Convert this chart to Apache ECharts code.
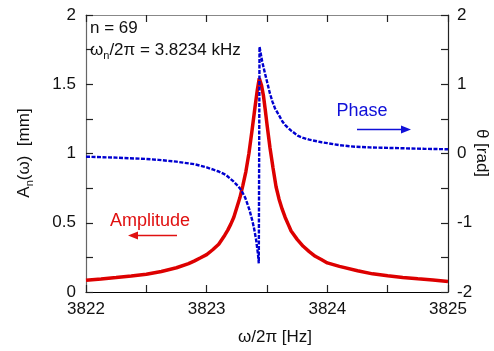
<!DOCTYPE html>
<html>
<head>
<meta charset="utf-8">
<script src="https://cdn.jsdelivr.net/npm/echarts@6/dist/echarts.min.js"></script>
<style>
html,body{margin:0;padding:0;background:#fff;}
#c{width:494px;height:351px;}
</style>
</head>
<body>
<div id="c"></div>
<script>
// Amplitude A_n(ω) [mm] vs frequency [Hz]
var ampFreq = [3822.00, 3822.125, 3822.25, 3822.375, 3822.50, 3822.625, 3822.75, 3822.85, 3822.90, 3822.95, 3823.00, 3823.05, 3823.10, 3823.15, 3823.175, 3823.20, 3823.225, 3823.25, 3823.275, 3823.30, 3823.325, 3823.35, 3823.375, 3823.40, 3823.42, 3823.436, 3823.455, 3823.47, 3823.485, 3823.50, 3823.525, 3823.55, 3823.575, 3823.60, 3823.625, 3823.65, 3823.675, 3823.70, 3823.75, 3823.80, 3823.85, 3823.90, 3823.95, 3824.00, 3824.10, 3824.25, 3824.375, 3824.50, 3824.625, 3824.75, 3824.875, 3825.00];
var ampValues = [0.085, 0.094, 0.104, 0.115, 0.128, 0.148, 0.175, 0.205, 0.225, 0.247, 0.270, 0.305, 0.345, 0.41, 0.447, 0.49, 0.54, 0.61, 0.68, 0.77, 0.87, 1.00, 1.16, 1.33, 1.46, 1.543, 1.49, 1.42, 1.32, 1.21, 1.04, 0.895, 0.76, 0.67, 0.60, 0.54, 0.49, 0.44, 0.38, 0.33, 0.292, 0.258, 0.235, 0.21, 0.185, 0.153, 0.131, 0.117, 0.105, 0.095, 0.086, 0.076];

// Phase θ [rad] vs frequency [Hz]
var phaseFreq = [3822.00, 3822.25, 3822.50, 3822.60, 3822.75, 3822.90, 3823.00, 3823.05, 3823.10, 3823.16, 3823.22, 3823.26, 3823.286, 3823.32, 3823.355, 3823.38, 3823.395, 3823.41, 3823.425, 3823.432, 3823.438, 3823.46, 3823.483, 3823.50, 3823.524, 3823.545, 3823.566, 3823.60, 3823.625, 3823.649, 3823.70, 3823.759, 3823.80, 3823.85, 3823.953, 3824.00, 3824.10, 3824.229, 3824.35, 3824.45, 3824.643, 3824.80, 3825.00];
var phaseValues = [-0.046, -0.06, -0.079, -0.092, -0.118, -0.155, -0.20, -0.23, -0.26, -0.31, -0.40, -0.47, -0.527, -0.64, -0.816, -0.98, -1.10, -1.25, -1.45, -1.586, 1.542, 1.33, 1.158, 1.04, 0.869, 0.75, 0.653, 0.55, 0.47, 0.412, 0.33, 0.253, 0.225, 0.20, 0.162, 0.15, 0.12, 0.098, 0.088, 0.083, 0.075, 0.068, 0.061];

// Axis ranges
var xRange = [3822, 3825];
var ampRange = [0, 2];
var phaseRange = [-2, 2];

var FONT = "'Liberation Sans', Arial, Helvetica, sans-serif";

function zip(a, b) { return a.map(function (v, i) { return [v, b[i]]; }); }
function onStep(v, step) { var q = v / step; return Math.abs(q - Math.round(q)) < 1e-6; }
function ticks() { return { show: true, inside: true, length: 7, lineStyle: { color: '#222', width: 1.2 } }; }

var chart = echarts.init(document.getElementById('c'), null, { renderer: 'canvas' });

var option = {
  animation: false,
  backgroundColor: '#fff',
  grid: { left: 86, right: 46, top: 15, bottom: 59, containLabel: false },
  xAxis: [
    {
      type: 'value', position: 'bottom', min: xRange[0], max: xRange[1], interval: 0.5,
      axisLine: { show: true, onZero: false, lineStyle: { color: '#000', width: 1.2 } },
      axisTick: ticks(),
      minorTick: { show: false },
      splitLine: { show: false },
      axisLabel: {
        margin: 9, fontSize: 17, color: '#111', fontFamily: FONT,
        formatter: function (v) { return onStep(v, 1) ? String(Math.round(v)) : ''; }
      }
    },
    {
      type: 'value', position: 'top', min: xRange[0], max: xRange[1], interval: 0.5,
      axisLine: { show: true, onZero: false, lineStyle: { color: '#888', width: 1.2 } },
      axisTick: ticks(),
      splitLine: { show: false },
      axisLabel: { show: true, color: 'rgba(0,0,0,0)', formatter: function () { return ''; } }
    }
  ],
  yAxis: [
    {
      type: 'value', position: 'left', min: ampRange[0], max: ampRange[1], interval: 0.25,
      axisLine: { show: true, onZero: false, lineStyle: { color: '#666', width: 1.2 } },
      axisTick: ticks(),
      splitLine: { show: false },
      axisLabel: {
        margin: 10, fontSize: 17, color: '#111', fontFamily: FONT,
        formatter: function (v) { return onStep(v, 0.5) ? String(Math.round(v * 2) / 2) : ''; }
      }
    },
    {
      type: 'value', position: 'right', min: phaseRange[0], max: phaseRange[1], interval: 0.5,
      axisLine: { show: true, onZero: false, lineStyle: { color: '#222', width: 1.2 } },
      axisTick: ticks(),
      splitLine: { show: false },
      axisLabel: {
        margin: 9, fontSize: 17, color: '#111', fontFamily: FONT,
        formatter: function (v) { return onStep(v, 1) ? String(Math.round(v)) : ''; }
      }
    }
  ],
  series: [
    {
      name: 'Amplitude', type: 'line', xAxisIndex: 0, yAxisIndex: 0,
      data: zip(ampFreq, ampValues),
      showSymbol: false, symbol: 'none', smooth: false,
      lineStyle: { color: '#dd0000', width: 3.5 },
      z: 2
    },
    {
      name: 'Phase', type: 'line', xAxisIndex: 0, yAxisIndex: 1,
      data: zip(phaseFreq, phaseValues),
      showSymbol: false, symbol: 'none', smooth: false,
      lineStyle: { color: '#0000d0', width: 2.4, type: [4, 1.5] },
      z: 3
    }
  ],
  graphic: [
    { type: 'text', left: 90, top: 20, style: { text: 'n = 69', font: '17px ' + FONT, fill: '#111' }, z: 10 },
    { type: 'text', left: 90, top: 42, style: {
        text: '{a|ω}{s|n}{a|/2π = 3.8234 kHz}',
        rich: {
          a: { fontSize: 17, fontFamily: FONT, fill: '#111', lineHeight: 22, verticalAlign: 'middle' },
          s: { fontSize: 11, fontFamily: FONT, fill: '#111', lineHeight: 8, verticalAlign: 'bottom' }
        }
      }, z: 10 },
    { type: 'text', x: 275, y: 337, style: { text: 'ω/2π [Hz]', font: '17px ' + FONT, fill: '#111', align: 'center', verticalAlign: 'middle' } },
    { type: 'text', x: 24, y: 153, rotation: Math.PI / 2, style: {
        text: '{a|A}{s|n}{a|(ω)  [mm]}', align: 'center', verticalAlign: 'middle',
        rich: {
          a: { fontSize: 17, fontFamily: FONT, fill: '#111', lineHeight: 22, verticalAlign: 'middle' },
          s: { fontSize: 11, fontFamily: FONT, fill: '#111', lineHeight: 8, verticalAlign: 'bottom' }
        }
      } },
    { type: 'text', x: 482, y: 153, rotation: -Math.PI / 2, style: { text: 'θ [rad]', font: '17px ' + FONT, fill: '#111', align: 'center', verticalAlign: 'middle' } },
    // Amplitude annotation
    { type: 'text', x: 150, y: 221, style: { text: 'Amplitude', font: '18px ' + FONT, fill: '#e01010', align: 'center', verticalAlign: 'middle' } },
    { type: 'line', shape: { x1: 177, y1: 235.5, x2: 136, y2: 235.5 }, style: { stroke: '#e01010', lineWidth: 1.3 } },
    { type: 'polygon', shape: { points: [[128, 235.5], [138, 231.5], [138, 239.5]] }, style: { fill: '#e01010' } },
    // Phase annotation
    { type: 'text', x: 362, y: 111.5, style: { text: 'Phase', font: '18px ' + FONT, fill: '#1010d8', align: 'center', verticalAlign: 'middle' } },
    { type: 'line', shape: { x1: 357, y1: 129.5, x2: 402, y2: 129.5 }, style: { stroke: '#1010d8', lineWidth: 1.3 } },
    { type: 'polygon', shape: { points: [[411, 129.5], [401, 125.5], [401, 133.5]] }, style: { fill: '#1010d8' } }
  ]
};

chart.setOption(option);
</script>
</body>
</html>
